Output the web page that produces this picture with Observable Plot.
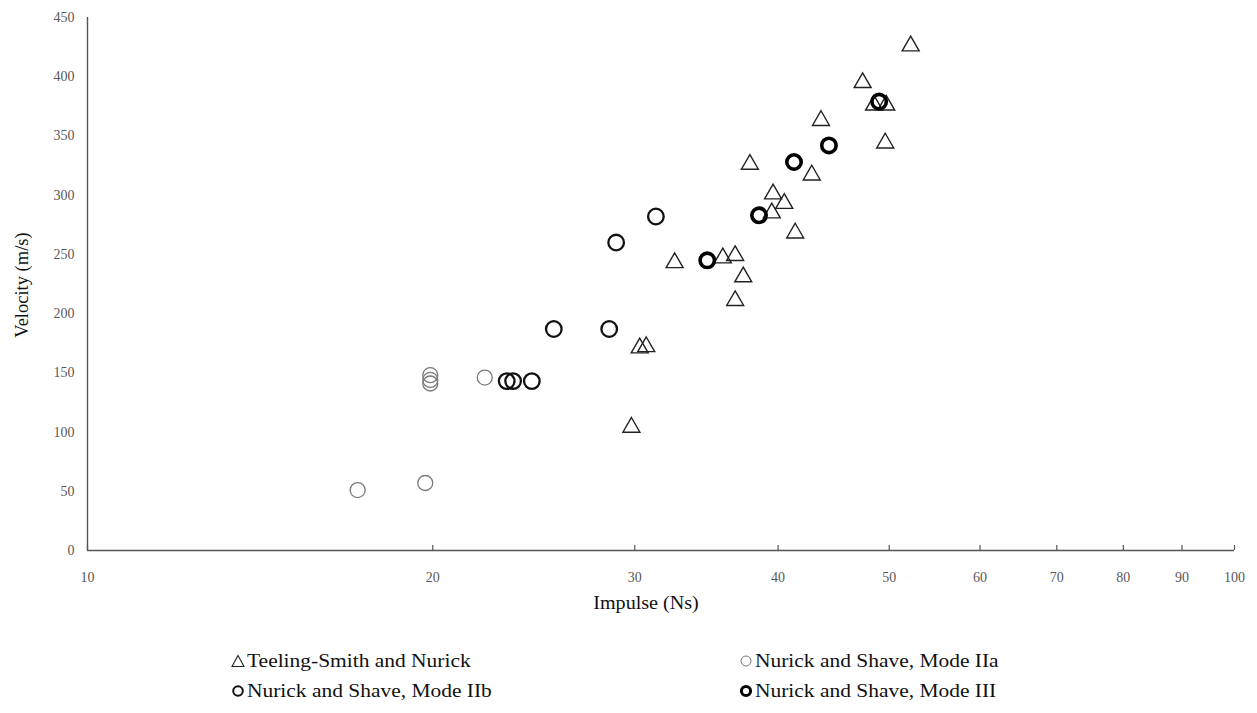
<!DOCTYPE html>
<html>
<head>
<meta charset="utf-8">
<script src="https://cdn.jsdelivr.net/npm/d3@7"></script>
<script src="https://cdn.jsdelivr.net/npm/@observablehq/plot@0.6"></script>
<style>
  html, body { margin: 0; padding: 0; background: #fff; }
  #chart { width: 1257px; }
  .legend { position: relative; width: 1257px; height: 93px; font-family: "Liberation Serif", "Times New Roman", serif; font-size: 19.5px; color: #111; }
  .item { position: absolute; display: flex; align-items: center; height: 26px; }
  .item svg { margin-right: 2px; }
  .item span { display: inline-block; transform: scaleX(1.1); transform-origin: left center; white-space: nowrap; }
</style>
</head>
<body>
<div id="chart"></div>
<div class="legend" id="legend"></div>
<script>
// ---- data ----
const seriesNames = ["Teeling-Smith and Nurick", "Nurick and Shave, Mode IIa", "Nurick and Shave, Mode IIb", "Nurick and Shave, Mode III"];

const teelingImpulse  = [52.2, 47.4, 48.5, 49.7, 49.6, 43.6, 37.8, 42.8, 39.6, 40.5, 39.5, 41.4, 32.5, 35.8, 36.7, 37.3, 36.7, 30.3, 30.7, 29.8];
const teelingVelocity = [426, 395, 376, 376, 344, 363, 326, 317, 301, 293, 285, 268, 243, 247, 249, 231, 211, 171, 172, 104];

const modeIIaImpulse  = [17.2, 19.7, 19.9, 19.9, 19.9, 22.2];
const modeIIaVelocity = [51, 57, 148, 144, 141, 146];

const modeIIbImpulse  = [23.2, 23.5, 24.4, 25.5, 28.5, 28.9, 31.3];
const modeIIbVelocity = [143, 143, 143, 187, 187, 260, 282];

const modeIIIImpulse  = [34.7, 38.5, 41.3, 44.3, 49.0];
const modeIIIVelocity = [245, 283, 328, 342, 379];

const xTicks = [10, 20, 30, 40, 50, 60, 70, 80, 90, 100];
const yTicks = [0, 50, 100, 150, 200, 250, 300, 350, 400, 450];

const xTitle = "Impulse (Ns)";
const yTitle = "Velocity (m/s)";

const rows = (xs, ys, s) => xs.map((x, i) => ({impulse: x, velocity: ys[i], series: s}));
const teeling = rows(teelingImpulse, teelingVelocity, seriesNames[0]);
const modeIIa = rows(modeIIaImpulse, modeIIaVelocity, seriesNames[1]);
const modeIIb = rows(modeIIbImpulse, modeIIbVelocity, seriesNames[2]);
const modeIII = rows(modeIIIImpulse, modeIIIVelocity, seriesNames[3]);

const axisColor = "#555";
const tickColor = "#595959";
const serif = "'Liberation Serif', 'Times New Roman', serif";

const chart = Plot.plot({
  width: 1257,
  height: 620,
  marginLeft: 87,
  marginRight: 23,
  marginTop: 17,
  marginBottom: 70,
  style: { fontFamily: serif, fontSize: "14px", background: "#fff", color: "#111" },
  x: { type: "log", domain: [10, 100], label: null },
  y: { domain: [0, 450], label: null },
  marks: [
    Plot.axisX(xTicks, { tickSize: -5, fill: "none", stroke: axisColor, strokeWidth: 1.2 }),
    Plot.axisX(xTicks, { tickSize: 0, tickPadding: 22, tickFormat: d => String(d), fill: tickColor, fontSize: 14, label: null }),
    Plot.axisY(yTicks, { tickSize: 0, tickPadding: 13, fill: tickColor, fontSize: 14, label: null }),
    Plot.ruleY([0], { stroke: axisColor, strokeWidth: 1.4 }),
    Plot.ruleX([10], { stroke: axisColor, strokeWidth: 1.4 }),
    Plot.dot(teeling, { x: "impulse", y: "velocity", symbol: "triangle", r: 6.3, stroke: "#222", strokeWidth: 1.4, fill: "none" }),
    Plot.dot(modeIIa, { x: "impulse", y: "velocity", symbol: "circle", r: 7.5, stroke: "#7a7a7a", strokeWidth: 1.3, fill: "none" }),
    Plot.dot(modeIIb, { x: "impulse", y: "velocity", symbol: "circle", r: 7.8, stroke: "#111", strokeWidth: 2.3, fill: "none" }),
    Plot.dot(modeIII, { x: "impulse", y: "velocity", symbol: "circle", r: 7.2, stroke: "#000", strokeWidth: 3.6, fill: "none" })
  ]
});
document.getElementById("chart").appendChild(chart);

const svg = d3.select(chart.tagName.toLowerCase() === "svg" ? chart : chart.querySelector("svg"));
svg.append("text")
  .attr("transform", "translate(24,285) rotate(-90)")
  .attr("text-anchor", "middle")
  .attr("dominant-baseline", "middle")
  .style("font-family", serif)
  .style("font-size", "18.5px")
  .style("fill", "#111")
  .text(yTitle);
svg.append("text")
  .attr("transform", "translate(646,605) scale(1.03,1)")
  .attr("text-anchor", "middle")
  .attr("dominant-baseline", "middle")
  .style("font-family", serif)
  .style("font-size", "19.5px")
  .style("fill", "#111")
  .text(xTitle);

// ---- legend ----
const legendSwatches = [
  `<svg width="14" height="14" viewBox="0 0 14 14"><path d="M7,1.5 L13,12.5 L1,12.5 Z" fill="none" stroke="#222" stroke-width="1.1"/></svg>`,
  `<svg width="14" height="14" viewBox="0 0 14 14"><circle cx="7" cy="7" r="5" fill="none" stroke="#777" stroke-width="1"/></svg>`,
  `<svg width="14" height="14" viewBox="0 0 14 14"><circle cx="7" cy="7" r="4.8" fill="none" stroke="#111" stroke-width="2"/></svg>`,
  `<svg width="14" height="14" viewBox="0 0 14 14"><circle cx="7" cy="7" r="4.6" fill="none" stroke="#000" stroke-width="3"/></svg>`
];
const legendPos = [[231, 28], [739, 28], [231, 58], [739, 58]];
const legend = document.getElementById("legend");
seriesNames.forEach((name, i) => {
  const div = document.createElement("div");
  div.className = "item";
  div.style.left = legendPos[i][0] + "px";
  div.style.top = legendPos[i][1] + "px";
  div.innerHTML = legendSwatches[i] + `<span>${name}</span>`;
  legend.appendChild(div);
});
</script>
</body>
</html>
